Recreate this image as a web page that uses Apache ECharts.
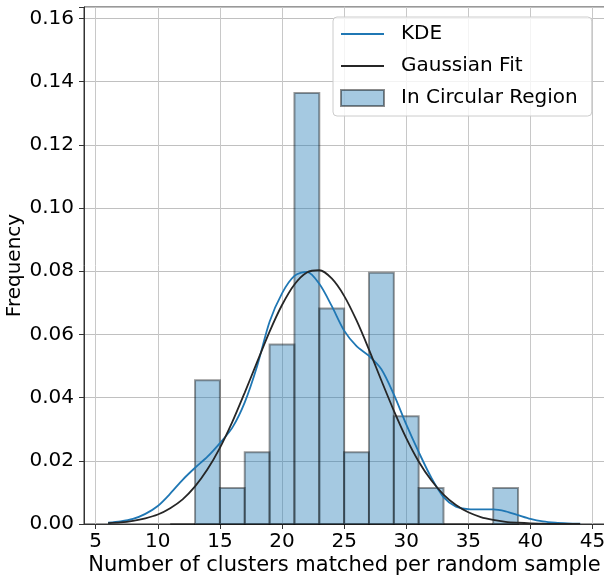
<!DOCTYPE html>
<html>
<head>
<meta charset="utf-8">
<script src="https://cdn.jsdelivr.net/npm/echarts@6/dist/echarts.min.js"></script>
<style>
html,body{margin:0;padding:0;background:#fff;}
#chart{width:604px;height:579px;}
</style>
</head>
<body>
<div id="chart"></div>
<script>
// Histogram bins (density)
const binStarts = [11, 13, 15, 17, 19, 21, 23, 25, 27, 29, 31, 33, 35, 37];
const binEnds   = [13, 15, 17, 19, 21, 23, 25, 27, 29, 31, 33, 35, 37, 39];
const binHeights = [0, 0.0455, 0.0114, 0.0227, 0.0568, 0.1364, 0.0682, 0.0227, 0.0795, 0.0341, 0.0114, 0, 0, 0.0114];

// Curves
const curveX = [6,7,8,9,10,11,12,13,14,15,16,17,18,19,20,21,22,23,24,25,26,27,28,29,30,31,32,33,34,35,36,37,38,39,40,41,42,43,44];
const kdeY = [0.0004,0.0008,0.0016,0.0032,0.0057,0.0096,0.0140,0.0178,0.0213,0.0256,0.0305,0.0385,0.0500,0.0640,0.0730,0.0785,0.0798,0.0760,0.0690,0.0612,0.0563,0.0532,0.0490,0.0410,0.0315,0.0228,0.0148,0.0085,0.0055,0.0047,0.0046,0.0046,0.0040,0.0028,0.0016,0.0008,0.0004,0.0002,0.0001];
const gaussY = [0.0003,0.0005,0.0010,0.0018,0.0030,0.0050,0.0078,0.0119,0.0173,0.0241,0.0323,0.0416,0.0513,0.0609,0.0693,0.0758,0.0796,0.0803,0.0777,0.0722,0.0644,0.0552,0.0454,0.0359,0.0272,0.0198,0.0139,0.0093,0.0060,0.0037,0.0022,0.0013,0.0007,0.0004,0.0002,0.0001,0.0000,0.0000,0.0000];

// Tick labels
const xTicks = [5, 10, 15, 20, 25, 30, 35, 40, 45];
const yTickStep = 0.02;

const FONT = 'DejaVu Sans';
const chart = echarts.init(document.getElementById('chart'), null, {renderer: 'canvas'});

const histData = binStarts.map((s, i) => [s, binEnds[i], binHeights[i]]);
const kdeData = curveX.map((x, i) => [x, kdeY[i]]);
const gaussData = curveX.map((x, i) => [x, gaussY[i]]);

const LINE_ICON = 'path://M0,0L43,0L43,1.8L0,1.8Z';

const option = {
  animation: false,
  backgroundColor: '#fff',
  textStyle: {fontFamily: FONT},
  grid: {
    left: 84, top: 7, width: 521, height: 517,
    outerBoundsMode: 'none', containLabel: false,
    show: true, borderColor: '#333', borderWidth: 1, backgroundColor: 'transparent'
  },
  xAxis: {
    type: 'value', min: 4.06, max: 46.0,
    name: 'Number of clusters matched per random sample',
    nameLocation: 'middle', nameGap: 31, nameMoveOverlap: false,
    nameTextStyle: {fontSize: 21, color: '#000', fontFamily: FONT},
    axisLine: {show: true, lineStyle: {color: '#333', width: 1}},
    axisTick: {show: true, length: 5, lineStyle: {color: '#333'}, customValues: xTicks},
    axisLabel: {
      fontSize: 20, color: '#000', fontFamily: FONT, margin: 8,
      customValues: xTicks,
      formatter: v => String(Math.round(v))
    },
    splitLine: {show: true, lineStyle: {color: '#c8c8c8', width: 1}}
  },
  yAxis: {
    type: 'value', min: 0, max: 0.1636, interval: yTickStep,
    name: 'Frequency', nameLocation: 'middle', nameGap: 59, nameMoveOverlap: false,
    nameTextStyle: {fontSize: 20, color: '#000', fontFamily: FONT},
    axisLine: {show: true, lineStyle: {color: '#333', width: 1}},
    axisTick: {show: true, length: 5, lineStyle: {color: '#333'}},
    axisLabel: {
      fontSize: 20, color: '#000', fontFamily: FONT, margin: 10,
      formatter: v => (Math.abs(v / yTickStep - Math.round(v / yTickStep)) < 1e-6 ? v.toFixed(2) : '')
    },
    splitLine: {show: true, lineStyle: {color: '#c0c0c0', width: 1}}
  },
  legend: {
    left: 333, top: 17, orient: 'vertical',
    padding: [7, 14, 8, 7],
    itemWidth: 43, itemHeight: 16, itemGap: 12,
    backgroundColor: 'rgba(255,255,255,0.8)',
    borderColor: '#cccccc', borderWidth: 1, borderRadius: 4,
    textStyle: {fontSize: 20, color: '#000', fontFamily: FONT, padding: [0, 0, 0, 12], lineHeight: 20},
    data: [
      {name: 'KDE', icon: LINE_ICON, itemStyle: {color: '#1f77b4'}},
      {name: 'Gaussian Fit', icon: LINE_ICON, itemStyle: {color: '#262626'}},
      {name: 'In Circular Region', icon: 'rect',
       itemStyle: {color: 'rgba(31,119,180,0.4)', borderColor: 'rgba(0,0,0,0.45)', borderWidth: 2}}
    ]
  },
  series: [
    {
      name: 'In Circular Region',
      type: 'custom',
      z: 2,
      itemStyle: {color: 'rgba(31,119,180,0.4)', borderColor: 'rgba(0,0,0,0.4)', borderWidth: 2},
      encode: {x: [0, 1], y: 2},
      data: histData,
      renderItem: function (params, api) {
        const p0 = api.coord([api.value(0), 0]);
        const p1 = api.coord([api.value(1), api.value(2)]);
        return {
          type: 'rect',
          shape: {x: p0[0], y: p1[1], width: p1[0] - p0[0], height: p0[1] - p1[1]},
          style: {fill: 'rgba(31,119,180,0.4)', stroke: 'rgba(0,0,0,0.4)', lineWidth: 2}
        };
      }
    },
    {
      name: 'KDE', type: 'line', z: 3,
      data: kdeData, smooth: 0.3, symbol: 'none', showSymbol: false,
      lineStyle: {color: '#1f77b4', width: 1.8},
      itemStyle: {color: '#1f77b4'}
    },
    {
      name: 'Gaussian Fit', type: 'line', z: 4,
      data: gaussData, smooth: 0.3, symbol: 'none', showSymbol: false,
      lineStyle: {color: '#262626', width: 1.8},
      itemStyle: {color: '#262626'}
    }
  ]
};
chart.setOption(option);
</script>
</body>
</html>
